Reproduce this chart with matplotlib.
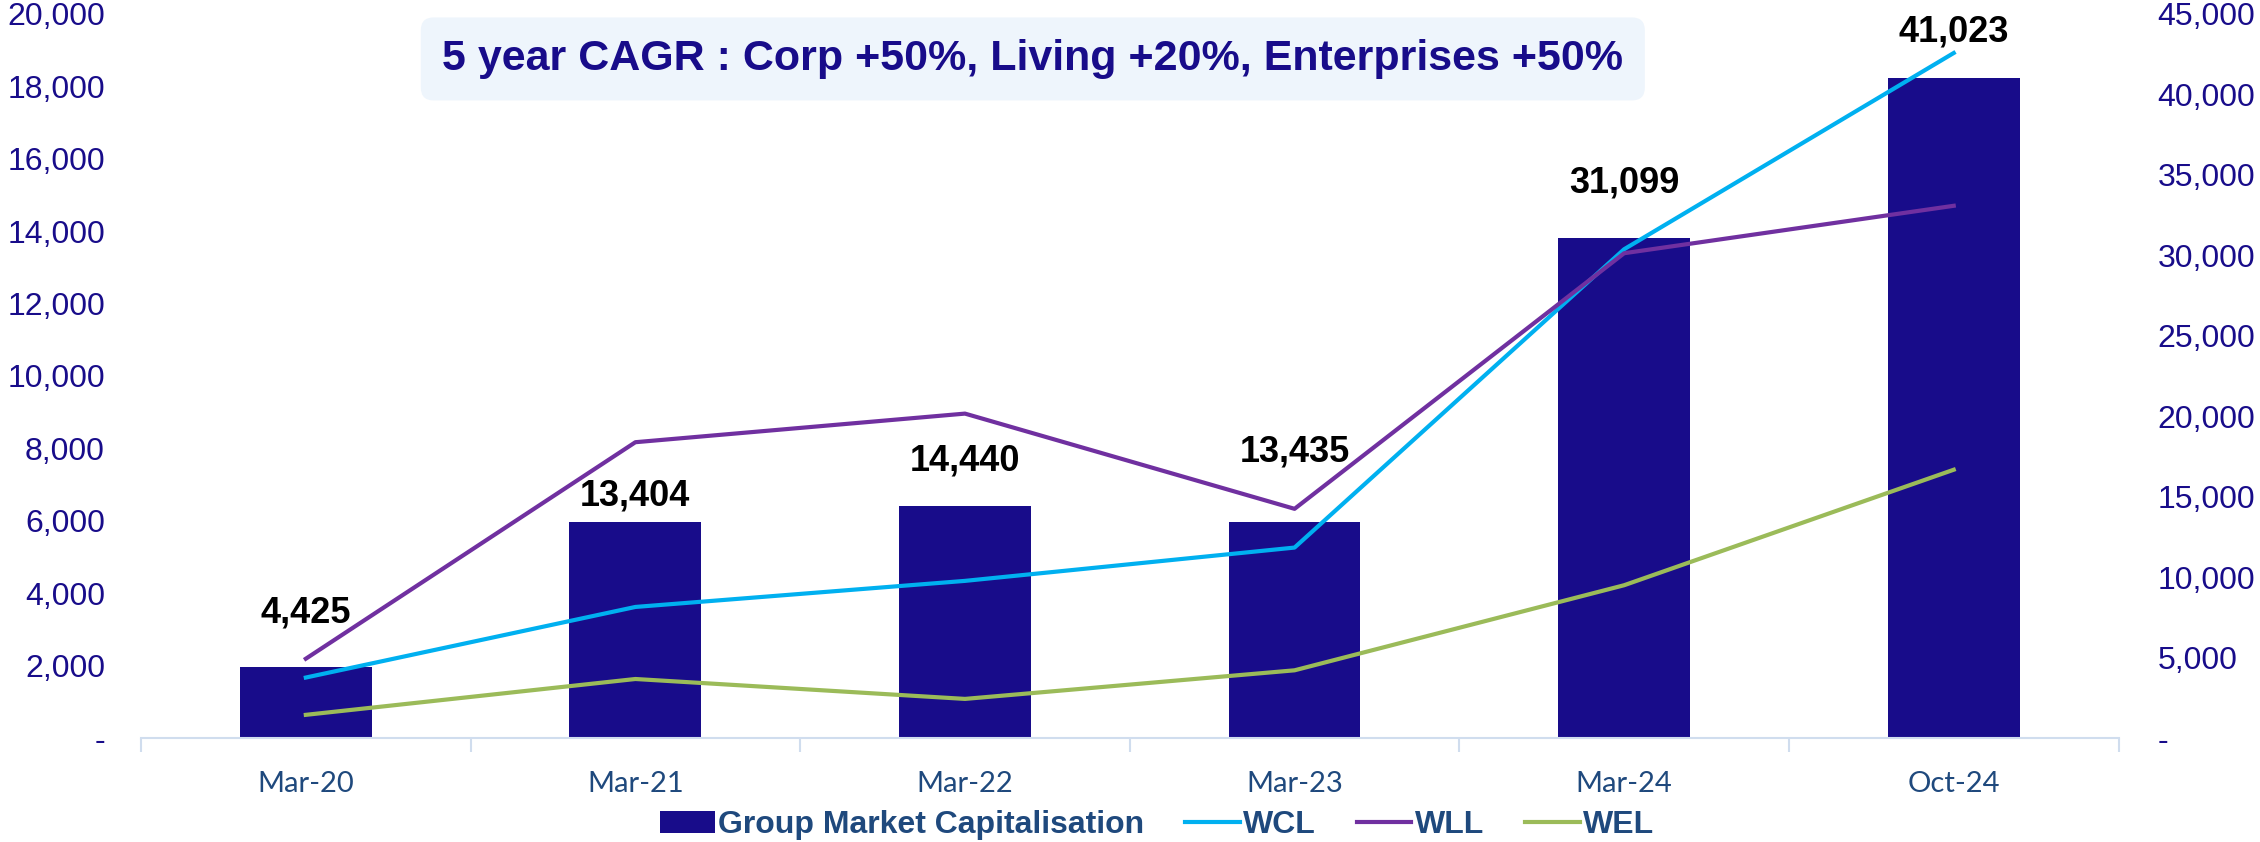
import matplotlib.pyplot as plt
from matplotlib.ticker import FuncFormatter, FixedLocator

periods = ['Mar-20', 'Mar-21', 'Mar-22', 'Mar-23', 'Mar-24', 'Oct-24']
group_mcap = [4425, 13404, 14440, 13435, 31099, 41023]  # right axis
wcl = [1670, 3620, 4340, 5260, 13500, 18920]  # left axis
wll = [2190, 8170, 8960, 6330, 13390, 14700]
wel = [640, 1630, 1080, 1870, 4220, 7410]

title_text = '5 year CAGR : Corp +50%, Living +20%, Enterprises +50%'

NAVY = '#180C8A'
AXCOL = '#1F497D'
label_offsets = [39, 19, 32, 50, 39, 33]  # points above bar tops, hand placed like the original

plt.rcParams['font.family'] = ['Liberation Sans', 'DejaVu Sans']

fig = plt.figure(figsize=(22.6, 8.42), dpi=100)
ax = fig.add_axes([0.0624, 0.1235, 0.875, 0.86])
ax2 = ax.twinx()
x = list(range(len(periods)))

fmt = FuncFormatter(lambda v, p: '-' if v == 0 else f'{v:,.0f}')

# bars (right scale)
ax.bar(x, group_mcap, width=0.4, color=NAVY, zorder=2, label='Group Market Capitalisation')
ax.set_ylim(0, 45000)
ax.set_xlim(-0.5, len(periods) - 0.5)
ax.yaxis.tick_right()
ax.set_yticks(range(0, 45001, 5000))
ax.yaxis.set_major_formatter(fmt)
ax.tick_params(axis='y', length=0, pad=28, labelsize=23, labelcolor=NAVY)

for xi, v, off in zip(x, group_mcap, label_offsets):
    ax.annotate(f'{v:,}', (xi, v), xytext=(0, off), textcoords='offset points',
                ha='center', va='center', fontsize=26, fontweight='bold', color='black')

# lines (left scale)
ax2.set_ylim(0, 20000)
ax2.plot(x, wcl, color='#00B0F0', lw=3, label='WCL')
ax2.plot(x, wll, color='#7030A0', lw=3, label='WLL')
ax2.plot(x, wel, color='#9BBB59', lw=3, label='WEL')
ax2.yaxis.tick_left()
ax2.set_yticks(range(0, 20001, 2000))
ax2.yaxis.set_major_formatter(fmt)
ax2.tick_params(axis='y', length=0, pad=26, labelsize=23, labelcolor=NAVY)

# category axis
ax.set_xticks(x)
ax.set_xticklabels(periods, fontsize=21, color=AXCOL, family=['Lato', 'DejaVu Sans'])
ax.xaxis.set_minor_locator(FixedLocator([i - 0.5 for i in range(len(periods) + 1)]))
ax.tick_params(axis='x', which='major', length=0, pad=24)
ax.tick_params(axis='x', which='minor', length=10, width=1.5, color='#D0DDEE')

for a in (ax, ax2):
    for s in ('top', 'left', 'right'):
        a.spines[s].set_visible(False)
    a.spines['bottom'].set_color('#D0DDEE')
    a.spines['bottom'].set_linewidth(1.5)
ax2.spines['bottom'].set_visible(False)

fig.text(0.457, 0.93, title_text, ha='center', va='center', fontsize=31, fontweight='bold',
         color=NAVY, bbox=dict(boxstyle='round,pad=0.5,rounding_size=0.3', fc='#EEF5FC', ec='none'))

h1, l1 = ax.get_legend_handles_labels()
h2, l2 = ax2.get_legend_handles_labels()
ax.legend(h1 + h2, l1 + l2, loc='center', bbox_to_anchor=(0.512, 0.02), bbox_transform=fig.transFigure,
          ncol=4, frameon=False, handlelength=1.7, handletextpad=0.1, columnspacing=1.3,
          prop={'weight': 'bold', 'size': 23})
for t in ax.get_legend().get_texts():
    t.set_color(AXCOL)

fig.savefig('out.png', dpi=100)
